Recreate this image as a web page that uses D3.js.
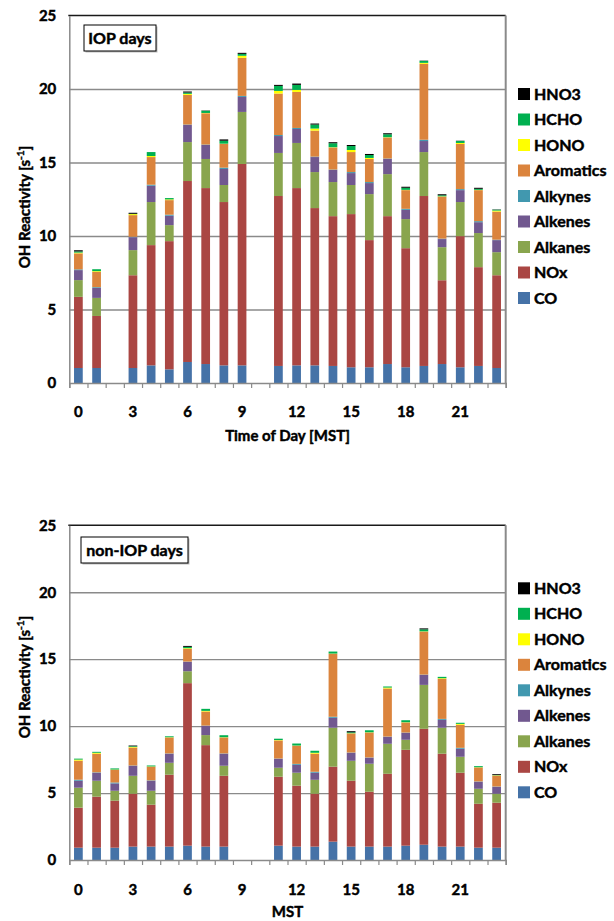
<!DOCTYPE html>
<html>
<head>
<meta charset="utf-8">
<script src="https://cdn.jsdelivr.net/npm/d3@7/dist/d3.min.js"></script>
<style>
  body { margin: 0; background: #fff; }
  svg text { font-family: Lato, "Open Sans", sans-serif; font-weight: bold; fill: #000; stroke: #000; stroke-width: 0.45px; }
</style>
</head>
<body>
<div class="main-chart"></div>
<script>
// categories
const hours = [0, 1, 2, 3, 4, 5, 6, 7, 8, 9, 10, 11, 12, 13, 14, 15, 16, 17, 18, 19, 20, 21, 22, 23];
const xTickLabels = [0, 3, 6, 9, 12, 15, 18, 21];
const yTicks = [0, 5, 10, 15, 20, 25];
const seriesNames = [`CO`, `NOx`, `Alkanes`, `Alkenes`, `Alkynes`, `Aromatics`, `HONO`, `HCHO`, `HNO3`];
const seriesColors = [`#4572a7`, `#aa4643`, `#89a54e`, `#71588f`, `#4198af`, `#db843d`, `#ffff00`, `#00b050`, `#000000`];

// IOP days, s-1 (null = no data)
const iopCO        = [1.02, 1.02, null, 1.02, 1.20, 0.93, 1.43, 1.29, 1.20, 1.20, null, 1.16, 1.20, 1.20, 1.16, 1.07, 1.07, 1.29, 1.07, 1.16, 1.29, 1.07, 1.16, 1.02];
const iopNOx       = [4.84, 3.54, null, 6.31, 8.18, 8.72, 12.31, 11.97, 11.11, 13.70, null, 11.56, 12.06, 10.70, 10.19, 10.42, 8.65, 10.06, 8.10, 11.56, 5.70, 8.92, 6.72, 6.31];
const iopAlkanes   = [1.14, 1.23, null, 1.71, 2.93, 1.09, 2.65, 1.98, 1.16, 3.54, null, 2.93, 3.07, 2.45, 2.32, 1.98, 3.13, 2.86, 1.98, 2.99, 2.25, 2.32, 2.32, 1.57];
const iopAlkenes   = [0.68, 0.68, null, 0.88, 1.11, 0.64, 1.16, 0.95, 1.09, 1.02, null, 1.15, 0.95, 1.02, 0.82, 0.81, 0.75, 1.03, 0.63, 0.75, 0.55, 0.81, 0.74, 0.82];
const iopAlkynes   = [0.05, 0.05, null, 0.03, 0.07, 0.07, 0.03, 0.03, 0.09, 0.07, null, 0.07, 0.07, 0.03, 0.03, 0.07, 0.07, 0.03, 0.07, 0.09, 0.03, 0.07, 0.07, 0.03];
const iopAromatics = [1.09, 1.04, null, 1.47, 1.88, 0.99, 2.02, 2.13, 1.61, 2.59, null, 2.82, 2.45, 1.77, 1.50, 1.36, 1.57, 1.43, 1.27, 5.16, 2.86, 3.07, 2.11, 1.91];
const iopHONO      = [0.05, 0.05, null, 0.07, 0.07, 0.05, 0.07, 0.02, 0.02, 0.14, null, 0.18, 0.14, 0.14, 0.02, 0.14, 0.07, 0.02, 0.02, 0.07, 0.02, 0.07, 0.02, 0.07];
const iopHCHO      = [0.08, 0.13, null, 0.02, 0.27, 0.09, 0.09, 0.15, 0.20, 0.13, null, 0.34, 0.34, 0.27, 0.27, 0.27, 0.20, 0.20, 0.14, 0.13, 0.07, 0.13, 0.07, 0.06];
const iopHNO3      = [0.08, 0.00, null, 0.07, 0.00, 0.00, 0.07, 0.02, 0.09, 0.07, null, 0.07, 0.09, 0.07, 0.07, 0.07, 0.07, 0.07, 0.07, 0.02, 0.07, 0.02, 0.07, 0.02];

// non-IOP days, s-1
const nonCO        = [0.92, 0.92, 0.92, 1.00, 1.00, 1.00, 1.07, 1.00, 1.00, null, null, 1.07, 1.00, 1.00, 1.37, 1.00, 1.00, 1.00, 1.07, 1.14, 1.00, 1.00, 0.92, 0.92];
const nonNOx       = [2.99, 3.81, 3.51, 3.95, 3.13, 5.37, 12.14, 7.58, 5.29, null, null, 5.15, 4.55, 3.95, 5.60, 4.92, 4.10, 5.44, 7.16, 8.66, 6.94, 5.52, 3.28, 3.36];
const nonAlkanes   = [1.49, 1.19, 0.74, 1.34, 1.04, 0.89, 0.89, 0.75, 0.75, null, null, 0.67, 0.97, 1.04, 2.91, 1.49, 2.09, 2.24, 0.75, 3.28, 1.94, 1.19, 1.12, 0.67];
const nonAlkenes   = [0.52, 0.60, 0.55, 0.75, 0.75, 0.68, 0.70, 0.69, 0.90, null, null, 0.67, 0.59, 0.53, 0.74, 0.60, 0.45, 0.52, 0.52, 0.75, 0.59, 0.60, 0.53, 0.52];
const nonAlkynes   = [0.08, 0.03, 0.07, 0.02, 0.03, 0.02, 0.02, 0.02, 0.02, null, null, 0.02, 0.07, 0.07, 0.08, 0.02, 0.02, 0.02, 0.02, 0.02, 0.07, 0.07, 0.02, 0.02];
const nonAromatics = [1.42, 1.39, 0.95, 1.34, 1.02, 1.19, 0.95, 1.05, 1.19, null, null, 1.35, 1.35, 1.35, 4.70, 1.42, 1.86, 3.59, 0.75, 3.21, 2.99, 1.72, 1.04, 0.82];
const nonHONO      = [0.08, 0.07, 0.02, 0.05, 0.02, 0.02, 0.05, 0.05, 0.02, null, null, 0.03, 0.02, 0.07, 0.02, 0.02, 0.02, 0.07, 0.02, 0.02, 0.05, 0.07, 0.02, 0.02];
const nonHCHO      = [0.07, 0.07, 0.08, 0.05, 0.07, 0.07, 0.10, 0.15, 0.15, null, null, 0.10, 0.15, 0.15, 0.15, 0.07, 0.15, 0.08, 0.15, 0.15, 0.10, 0.08, 0.08, 0.02];
const nonHNO3      = [0.00, 0.00, 0.00, 0.05, 0.00, 0.00, 0.07, 0.00, 0.00, null, null, 0.00, 0.00, 0.00, 0.00, 0.08, 0.00, 0.00, 0.00, 0.07, 0.00, 0.00, 0.00, 0.06];

const iopSeries = [iopCO, iopNOx, iopAlkanes, iopAlkenes, iopAlkynes, iopAromatics, iopHONO, iopHCHO, iopHNO3];
const nonSeries = [nonCO, nonNOx, nonAlkanes, nonAlkenes, nonAlkynes, nonAromatics, nonHONO, nonHCHO, nonHNO3];

const W = 614, H = 921;
const left = 69.3, right = 505.7;

const svg = d3.select(`.main-chart`).append(`svg`)
  .attr(`width`, W)
  .attr(`height`, H);

svg.append(`rect`).attr(`width`, W).attr(`height`, H).attr(`fill`, `#fff`);

const color = d3.scaleOrdinal().domain(seriesNames).range(seriesColors);

function drawPanel(series, opt) {
  const rows = hours.map((h, i) => {
    const row = {hour: h};
    seriesNames.forEach((k, j) => { row[k] = series[j][i] || 0; });
    return row;
  });

  const x = d3.scaleBand().domain(hours).range([left, right])
    .paddingInner(0.52).paddingOuter(0.26);
  const y = d3.scaleLinear().domain([0, 25]).range([opt.bottom, opt.top]);
  const g = svg.append(`g`);

  // grid
  g.append(`g`)
    .attr(`transform`, `translate(${left},0)`)
    .call(d3.axisLeft(y).tickValues(yTicks.slice(1, -1)).tickSize(-(right - left)).tickFormat(``))
    .call(a => a.select(`.domain`).remove())
    .call(a => a.selectAll(`line`).attr(`stroke`, `#8a8a8a`).attr(`stroke-width`, 1.3));

  // frame: dark top, grey right
  g.append(`line`).attr(`x1`, left - 1).attr(`x2`, right).attr(`y1`, y(25)).attr(`y2`, y(25))
    .attr(`stroke`, `#1a1a1a`).attr(`stroke-width`, 1.5);
  g.append(`line`).attr(`x1`, right).attr(`x2`, right).attr(`y1`, y(25)).attr(`y2`, y(0) + 1)
    .attr(`stroke`, `#8a8a8a`).attr(`stroke-width`, 2);

  // stacked bars
  const stacked = d3.stack().keys(seriesNames)(rows);
  g.append(`g`).selectAll(`g`)
    .data(stacked)
    .join(`g`)
    .attr(`fill`, d => color(d.key))
    .selectAll(`rect`)
    .data(d => d)
    .join(`rect`)
    .attr(`x`, d => x(d.data.hour))
    .attr(`y`, d => y(d[1]))
    .attr(`width`, x.bandwidth())
    .attr(`height`, d => Math.max(0, y(d[0]) - y(d[1])));

  // y axis
  g.append(`g`)
    .attr(`transform`, `translate(${left},0)`)
    .call(d3.axisLeft(y).tickValues(yTicks).tickSize(0).tickPadding(13))
    .call(a => a.select(`.domain`).attr(`stroke`, `#8a8a8a`).attr(`stroke-width`, 1.5))
    .call(a => a.selectAll(`text`).style(`font-size`, `15px`).attr(`fill`, `#000`));

  // x axis: boundary ticks + labels every 3 hours
  const xb = d3.scaleLinear().domain([0, 24]).range([left, right]);
  g.append(`g`)
    .attr(`transform`, `translate(0,${y(0)})`)
    .call(d3.axisBottom(xb).tickValues(d3.range(25)).tickSize(5).tickFormat(``))
    .call(a => a.select(`.domain`).attr(`stroke`, `#8a8a8a`).attr(`stroke-width`, 1.5))
    .call(a => a.selectAll(`line`).attr(`stroke`, `#8a8a8a`).attr(`stroke-width`, 1.2));

  g.append(`g`)
    .attr(`transform`, `translate(0,${y(0)})`)
    .call(d3.axisBottom(x).tickValues(xTickLabels).tickSize(0).tickPadding(opt.labelPad))
    .call(a => a.select(`.domain`).remove())
    .call(a => a.selectAll(`text`).style(`font-size`, `15px`).attr(`fill`, `#000`));

  // axis titles
  g.append(`text`)
    .attr(`x`, (left + right) / 2)
    .attr(`y`, opt.xTitleY)
    .attr(`text-anchor`, `middle`)
    .style(`font-size`, `15px`)
    .text(opt.xTitle);

  const yt = g.append(`text`)
    .attr(`transform`, `translate(30,${opt.yTitleY}) rotate(-90)`)
    .attr(`text-anchor`, `middle`)
    .style(`font-size`, `15px`);
  yt.append(`tspan`).text(`OH Reactivity [s`);
  yt.append(`tspan`).attr(`dy`, -6).style(`font-size`, `10px`).text(`-1`);
  yt.append(`tspan`).attr(`dy`, 6).text(`]`);

  // panel label box
  const lb = g.append(`g`).attr(`transform`, `translate(${opt.boxX},${opt.boxY})`);
  lb.append(`rect`).attr(`x`, 1.5).attr(`y`, 1.5).attr(`width`, opt.boxW).attr(`height`, 26).attr(`fill`, `#bdbdbd`);
  lb.append(`rect`).attr(`width`, opt.boxW).attr(`height`, 26)
    .attr(`fill`, `#fff`).attr(`stroke`, `#000`).attr(`stroke-width`, 1);
  lb.append(`text`).attr(`x`, opt.boxW / 2).attr(`y`, 19)
    .attr(`text-anchor`, `middle`).style(`font-size`, `16px`).text(opt.label);

  // legend (top entry = last series)
  const legend = g.append(`g`).selectAll(`g`)
    .data(seriesNames.slice().reverse())
    .join(`g`)
    .attr(`transform`, (d, i) => `translate(518,${opt.legendY + i * 25.5})`);
  legend.append(`rect`).attr(`y`, -6).attr(`width`, 12).attr(`height`, 12).attr(`fill`, d => color(d));
  legend.append(`text`).attr(`x`, 16).attr(`y`, 5.5).style(`font-size`, `16px`).text(d => d);
}

drawPanel(iopSeries, {
  top: 15.5, bottom: 383, label: `IOP days`, xTitle: `Time of Day [MST]`,
  xTitleY: 441, yTitleY: 207, labelPad: 23, boxX: 84, boxY: 25, boxW: 72, legendY: 94
});

drawPanel(nonSeries, {
  top: 525.3, bottom: 860, label: `non-IOP days`, xTitle: `MST`,
  xTitleY: 917, yTitleY: 677, labelPad: 24, boxX: 81, boxY: 537, boxW: 107, legendY: 588.3
});
</script>
</body>
</html>
